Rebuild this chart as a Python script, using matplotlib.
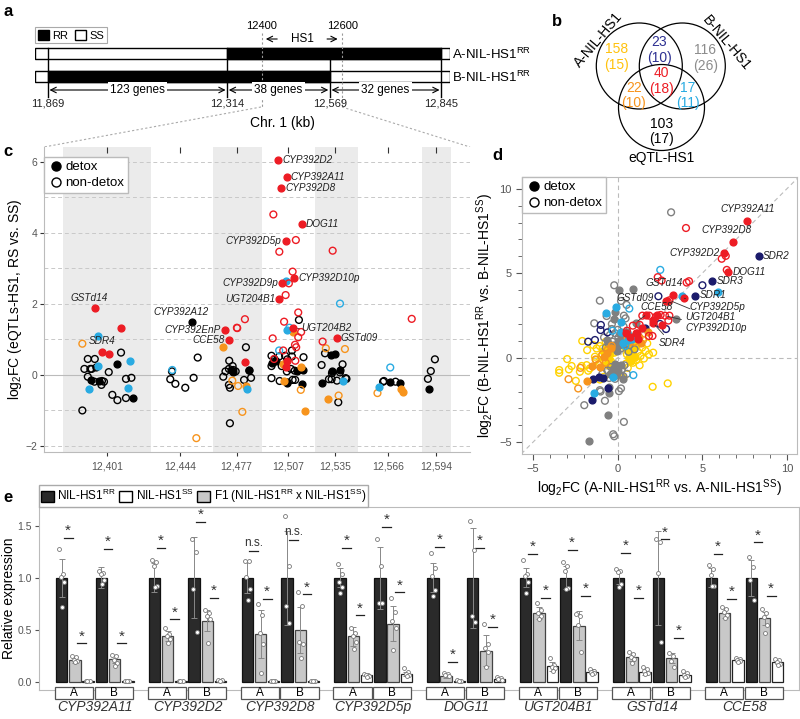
import matplotlib.pyplot as plt
import matplotlib.transforms as mtransforms
from matplotlib.patches import Rectangle, Circle, Patch
from matplotlib.lines import Line2D

plt.rcParams['font.family'] = ['Liberation Sans', 'DejaVu Sans']
plt.rcParams['mathtext.fontset'] = 'custom'
plt.rcParams['mathtext.rm'] = 'Liberation Sans'
plt.rcParams['mathtext.it'] = 'Liberation Sans:italic'

RED = '#ED1C24'
LBLUE = '#29ABE2'
ORANGE = '#F7941D'
YELLOW = '#FFD200'
NAVY = '#1B1B6B'
GRAY = '#808080'
TXT = '#555555'

# ---------------- data ----------------
# panel a: chromosome 1 segments (kb)
seg_bounds = [11869, 12314, 12569, 12845]
seg_genes = ['123 genes', '38 genes', '32 genes']
hs1_range = [12400, 12600]

# panel b: venn counts (all, detox)
venn_counts = [158, 23, 116, 22, 40, 17, 103]
venn_detox = [15, 10, 26, 10, 18, 11, 17]
venn_colors = ['#FFC20E', '#2E3192', '#8C8C8C', ORANGE, RED, LBLUE, 'black']
venn_sets = ['A-NIL-HS1', 'B-NIL-HS1', 'eQTL-HS1']

# panel c: (position kb, log2FC)
c_bands = [(12375, 12427), (12463, 12492), (12523, 12548), (12586, 12603)]
c_ticks = [12401, 12444, 12477, 12507, 12535, 12566, 12594]
c_red_detox = [(12393.8, 1.88), (12409.2, 1.32), (12397.9, 0.66), (12402.0, 0.59),
               (12470.4, 1.26), (12472.7, 0.99), (12481.9, 0.36), (12501.5, 6.04),
               (12506.4, 5.57), (12503.3, 5.26), (12515.2, 4.24), (12505.8, 3.78),
               (12510.7, 2.72), (12503.8, 2.58), (12502.1, 2.13), (12510.3, 1.31),
               (12535.7, 1.05), (12506.4, 0.40), (12506.0, 0.23)]
c_red_other = [(12498.6, 4.52), (12511.8, 3.80), (12502.1, 3.47), (12533.4, 3.50),
               (12509.9, 2.91), (12507.7, 2.58), (12505.8, 2.25), (12513.2, 1.76),
               (12481.9, 1.57), (12477.4, 1.32), (12579.8, 1.58), (12504.9, 1.50),
               (12514.9, 1.21), (12498.2, 1.03), (12513.2, 1.06), (12527.5, 0.94),
               (12511.3, 0.85), (12512.0, 0.78), (12477.2, 1.33), (12499.0, 0.45),
               (12504.4, 0.69), (12511.5, 0.40)]
c_blue_detox = [(12395.7, 1.09), (12414.3, 0.40), (12395.7, 0.25), (12390.6, -0.40),
                (12413.3, -0.38), (12505.8, 2.65), (12506.4, 1.27), (12483.3, -0.39),
                (12539.2, -0.16), (12560.5, -0.34)]
c_blue_other = [(12439.3, 0.14), (12537.7, 2.01), (12508.0, 1.33), (12502.0, 0.69),
                (12567.2, 0.21)]
c_orange_detox = [(12469.2, 0.79), (12510.3, 1.22), (12504.1, 0.30), (12514.8, 0.21),
                  (12530.8, -0.68), (12516.9, -1.02), (12573.4, -0.39), (12574.8, -0.48),
                  (12482.5, -0.31), (12505.0, -0.18)]
c_orange_other = [(12386.5, 0.88), (12453.4, -1.78), (12480.4, -1.04), (12514.7, -0.42),
                  (12529.4, 0.75), (12540.6, 0.73), (12536.9, -0.58), (12559.7, -0.51),
                  (12477.9, -0.31), (12474.5, -0.16)]
c_black_detox = [(12407.1, 0.30), (12391.8, -0.14), (12396.1, -0.16), (12416.2, -0.64),
                 (12451.0, 1.48), (12484.5, 0.15), (12498.0, 0.35), (12500.0, 0.38),
                 (12512.4, 0.12), (12515.9, 0.13), (12506.4, -0.22), (12515.3, -0.25),
                 (12532.4, 0.56), (12534.7, 0.58), (12532.9, 0.11), (12537.8, 0.14),
                 (12526.9, -0.23), (12567.2, -0.21), (12572.9, -0.23), (12590.0, -0.40),
                 (12473.5, 0.15), (12475.0, 0.08)]
c_black_other = [(12409.2, 0.63), (12389.7, 0.45), (12393.8, 0.45), (12394.7, 0.21),
                 (12387.7, 0.17), (12391.2, 0.17), (12392.0, 0.17), (12402.0, 0.08),
                 (12389.7, -0.05), (12393.6, -0.19), (12398.0, -0.17), (12399.2, -0.19),
                 (12397.7, -0.28), (12412.1, -0.11), (12415.3, -0.08), (12404.1, -0.56),
                 (12407.1, -0.71), (12412.1, -0.65), (12386.5, -1.00),
                 (12454.2, 0.49), (12439.1, 0.10), (12438.1, -0.12), (12441.1, -0.25),
                 (12451.8, -0.08), (12446.9, -0.36),
                 (12472.7, 0.40), (12470.5, 0.10), (12472.5, 0.17), (12474.7, 0.25),
                 (12475.1, 0.14), (12476.5, 0.10), (12469.2, -0.05), (12473.1, -0.36),
                 (12473.1, -1.36), (12482.5, 0.78), (12484.5, 0.12), (12481.4, -0.14),
                 (12485.5, -0.08), (12472.5, -0.28),
                 (12497.5, 0.54), (12499.3, 0.44), (12502.0, 0.52), (12505.5, 0.54),
                 (12506.8, 0.44), (12509.5, 0.69), (12509.5, 0.52), (12497.5, 0.25),
                 (12503.5, 0.25), (12506.5, 0.10), (12508.9, 0.17), (12511.1, 0.12),
                 (12497.5, -0.09), (12502.3, -0.17), (12507.0, -0.21), (12509.9, -0.14),
                 (12511.4, -0.14), (12516.3, 0.50), (12513.6, 1.55),
                 (12528.9, 0.61), (12526.9, 0.28), (12539.2, 0.30), (12533.0, 0.05),
                 (12537.7, 0.07), (12531.2, -0.12), (12532.8, -0.12), (12535.9, -0.16),
                 (12541.5, -0.11), (12541.0, -0.09), (12536.7, -0.77),
                 (12563.0, -0.19), (12563.5, -0.17), (12570.3, -0.19),
                 (12593.4, 0.44), (12591.0, 0.11), (12589.3, -0.11)]
c_label_names = ['GSTd14', 'SDR4', 'CYP392A12', 'CYP392EnP', 'CCE58', 'CYP392D2',
                 'CYP392A11', 'CYP392D8', 'DOG11', 'CYP392D10p', 'GSTd09',
                 'CYP392D5p', 'CYP392D9p', 'UGT204B1', 'UGT204B2']
c_label_pts = [(12393.8, 1.88), (12397.9, 0.66), (12451.0, 1.48), (12470.4, 1.26),
               (12472.7, 0.99), (12501.5, 6.04), (12506.4, 5.57), (12503.3, 5.26),
               (12515.2, 4.24), (12510.7, 2.72), (12535.7, 1.05), (12505.8, 3.78),
               (12503.8, 2.58), (12502.1, 2.13), (12510.3, 1.31)]

# panel d: (log2FC A, log2FC B)
d_yellow_detox = [(-0.85, 0.40), (-0.70, 0.10), (-0.60, 0.55), (-0.50, -0.15), (-0.45, 0.25),
                  (-0.65, -0.40), (0.55, 0.45), (0.65, 0.05), (0.70, 0.70), (0.80, -0.20),
                  (0.85, 0.30), (0.95, 0.55), (1.05, 0.05), (1.15, 0.80), (0.60, 0.90)]
d_yellow_other = [(-3.45, -0.73), (-3.45, -0.89), (-2.98, -0.08), (-2.88, -0.69), (-2.72, -0.49),
                  (-2.47, -1.37), (-2.23, -0.83), (-2.13, -0.49), (-2.09, 0.99), (-1.83, -0.44),
                  (-1.80, 0.45), (-1.74, -0.77), (-1.64, -0.63), (-1.44, 0.75), (-1.34, 0.06),
                  (-1.28, -0.14), (-1.24, 0.55), (-1.05, 0.69), (-1.05, -0.34), (-1.05, -1.29),
                  (-0.89, 0.55), (-0.85, -0.10), (-0.81, -1.13), (-0.75, 0.35), (-0.70, 0.95),
                  (-0.62, 0.15), (-0.55, -0.45), (-0.50, 0.62), (-0.45, 0.30), (-0.40, -0.20),
                  (0.34, -1.19), (0.45, 0.60), (0.50, -0.35), (0.55, 0.20), (0.62, 0.85),
                  (0.70, -0.10), (0.78, 0.45), (0.85, 1.00), (0.90, -0.30), (0.95, 0.15),
                  (1.05, 0.70), (1.10, -0.15), (1.20, 0.35), (1.28, 0.95), (1.35, 0.10),
                  (1.45, 0.60), (1.55, -0.05), (1.65, 0.40), (1.75, 0.85), (1.85, 0.20),
                  (2.07, -1.72), (2.96, -1.52), (1.30, -0.45), (0.60, -0.60), (-0.30, -0.85),
                  (-0.95, 0.10), (2.10, 0.30), (1.00, 1.25), (0.40, 1.10), (-0.20, 0.30)]
d_gray_detox = [(0.08, 4.02), (0.93, 4.08), (-0.18, 2.73), (-0.22, 2.29), (1.07, 2.08),
                (3.45, 2.27), (-0.49, -1.76), (-0.49, -2.06), (-0.59, -3.40), (-1.70, -4.95),
                (0.00, 1.00), (0.25, 1.15), (-0.25, 0.75), (0.40, 0.80), (-0.05, 0.40),
                (-0.30, -0.65), (0.05, -0.80), (0.20, -0.45), (-0.10, -1.05), (0.30, -1.25),
                (-0.45, -0.95), (0.55, 1.55), (-0.60, 1.05), (0.15, 1.40), (-0.15, -0.40),
                (0.10, 0.75)]
d_gray_other = [(3.16, 8.61), (-0.20, 4.29), (-1.05, 3.38), (0.20, 3.36), (0.53, 3.13),
                (-1.38, 2.04), (-0.65, 2.47), (-0.34, 2.00), (0.37, 2.49), (0.47, 2.33),
                (-0.80, 1.20), (-0.45, 1.35), (-0.30, 0.95), (-0.15, 1.45), (0.05, 1.20),
                (0.15, 0.85), (0.30, 1.30), (0.45, 1.05), (0.60, 1.35), (-0.10, 0.65),
                (0.20, 0.55), (-0.55, 0.85), (0.70, 0.75), (-0.40, -0.55), (-0.25, -0.85),
                (-0.05, -0.60), (0.10, -1.00), (0.25, -0.70), (0.40, -0.45), (-0.60, -0.75),
                (-0.15, -1.25), (0.34, -1.10), (0.08, -1.98), (-1.01, -2.00), (-1.05, -1.92),
                (-0.75, -2.55), (-1.97, -2.81), (0.20, -1.82), (0.37, -3.80), (-0.26, -4.53),
                (-0.20, -4.65), (-0.50, -1.20), (0.55, -0.95), (-0.90, -0.95), (1.00, 0.50),
                (-0.35, 1.70), (0.00, 1.65), (0.35, 1.85), (-0.70, 0.60), (0.65, 0.35)]
d_navy_detox = [(8.34, 6.03), (5.60, 4.55), (4.58, 3.66), (1.64, 1.74), (-1.44, -1.27),
                (-1.10, -1.13), (-0.85, -1.19), (-0.57, -1.82), (-1.54, -2.51), (0.95, 1.20)]
d_navy_other = [(5.01, 4.29), (2.41, 3.64), (2.86, 1.70), (-0.99, 1.94), (-1.01, 1.64),
                (-1.74, 0.95), (-1.34, 1.05), (-0.60, 1.50), (2.50, 2.00)]
d_orange_detox = [(1.81, 1.50), (-1.83, -1.38), (-1.54, -0.49), (-0.62, 0.30), (-0.80, 0.05),
                  (1.40, 0.90), (0.70, 0.95), (-0.40, 0.55), (1.25, 1.20), (-1.05, -0.55)]
d_orange_other = [(-2.90, -1.27), (-2.33, -1.82), (-1.30, -0.10), (-0.90, 0.20), (-0.60, 0.45),
                  (1.50, 1.05), (-1.15, -0.40), (0.60, 1.15), (-0.70, -0.30), (1.00, 0.95),
                  (-2.20, -0.60), (-0.35, 0.70)]
d_blue_detox = [(5.96, 3.90), (3.81, 3.66), (-0.12, 2.99), (-0.69, 2.63), (0.18, 2.14),
                (0.34, 0.89), (0.63, 1.05), (0.83, 1.09), (-1.38, -2.06), (-0.30, -1.13),
                (0.20, 1.50)]
d_blue_other = [(2.52, 5.20), (0.69, 2.91), (0.69, 1.29), (0.93, -1.03), (-0.30, 1.60),
                (0.45, 0.70)]
d_red_detox = [(7.63, 8.07), (6.84, 6.88), (6.29, 6.19), (6.55, 5.06), (3.27, 3.70),
               (3.94, 3.52), (2.86, 3.38), (1.68, 2.53), (2.07, 2.24), (2.11, 2.04),
               (2.62, 1.94), (1.22, 1.09), (1.16, 1.44), (0.49, 1.44), (1.08, 1.48),
               (0.75, 1.25), (1.45, 1.75), (2.35, 2.55)]
d_red_other = [(4.04, 7.68), (6.39, 6.03), (6.15, 5.86), (6.45, 5.20), (2.37, 4.77),
               (2.60, 4.57), (4.08, 4.45), (4.22, 4.53), (3.06, 3.40), (2.96, 3.33),
               (1.46, 2.49), (1.87, 2.49), (2.27, 2.43), (2.54, 2.53), (2.80, 2.49),
               (3.06, 2.49), (1.85, 1.29), (2.06, 1.29), (0.90, 1.90), (0.55, 1.60),
               (1.30, 1.95), (3.00, 2.20)]

# panel e: bars per gene -> [A RR, A F1, A SS, B RR, B F1, B SS]
e_genes = ['CYP392A11', 'CYP392D2', 'CYP392D8', 'CYP392D5p', 'DOG11', 'UGT204B1', 'GSTd14', 'CCE58']
e_mean = [[1.0, 0.21, 0.005, 1.0, 0.22, 0.005],
          [1.0, 0.44, 0.01, 1.0, 0.59, 0.012],
          [1.0, 0.46, 0.01, 1.0, 0.50, 0.01],
          [1.0, 0.44, 0.07, 1.0, 0.56, 0.08],
          [1.0, 0.06, 0.01, 1.0, 0.30, 0.03],
          [1.0, 0.66, 0.15, 1.0, 0.54, 0.10],
          [1.0, 0.24, 0.10, 1.0, 0.23, 0.07],
          [1.0, 0.66, 0.21, 1.0, 0.61, 0.19]]
e_sd = [[0.18, 0.03, 0.003, 0.10, 0.04, 0.003],
        [0.14, 0.05, 0.005, 0.39, 0.10, 0.006],
        [0.15, 0.23, 0.005, 0.45, 0.22, 0.005],
        [0.09, 0.09, 0.01, 0.30, 0.17, 0.02],
        [0.14, 0.02, 0.005, 0.48, 0.15, 0.01],
        [0.09, 0.06, 0.04, 0.11, 0.14, 0.02],
        [0.06, 0.04, 0.03, 0.45, 0.05, 0.02],
        [0.09, 0.05, 0.02, 0.17, 0.06, 0.02]]
e_pts = [[[1.28, 1.04, 1.01, 0.96, 0.72], [0.25, 0.24, 0.21, 0.20, 0.19], [0.005, 0.005, 0.005],
          [1.07, 1.05, 1.04, 0.98, 0.94], [0.26, 0.25, 0.21, 0.18, 0.15], [0.005, 0.005, 0.005]],
         [[1.17, 1.15, 1.11, 0.92, 0.91], [0.52, 0.46, 0.44, 0.41, 0.37], [0.01, 0.01, 0.01],
          [1.37, 1.25, 0.89, 0.48], [0.69, 0.66, 0.63, 0.60, 0.37], [0.02, 0.015, 0.01]],
         [[1.16, 1.16, 1.01, 0.89, 0.79], [0.75, 0.64, 0.47, 0.36, 0.09], [0.01, 0.01, 0.01],
          [1.59, 1.11, 0.73, 0.57], [0.86, 0.73, 0.38, 0.36, 0.23], [0.01, 0.01, 0.01]],
         [[1.13, 1.04, 0.96, 0.91, 0.85], [0.52, 0.47, 0.44, 0.38, 0.32], [0.08, 0.07, 0.065, 0.06, 0.05],
          [1.37, 1.11, 0.76, 0.76], [0.81, 0.67, 0.59, 0.52, 0.31], [0.13, 0.10, 0.08, 0.07, 0.06]],
         [[1.24, 1.09, 1.02, 0.88, 0.83], [0.09, 0.08, 0.07, 0.06], [0.015, 0.01, 0.01],
          [1.55, 1.27, 0.63, 0.58], [0.56, 0.36, 0.33, 0.29, 0.14], [0.05, 0.04, 0.03, 0.02]],
         [[1.17, 1.04, 1.02, 0.96, 0.85], [0.76, 0.69, 0.66, 0.63, 0.60], [0.23, 0.16, 0.14, 0.13, 0.11],
          [1.15, 1.11, 1.07, 0.90, 0.89], [0.65, 0.63, 0.55, 0.29], [0.12, 0.11, 0.10, 0.09, 0.08]],
         [[1.08, 1.07, 1.06, 0.94, 0.91], [0.29, 0.27, 0.24, 0.22, 0.18], [0.14, 0.12, 0.11, 0.09, 0.08],
          [1.37, 1.34, 1.05, 0.38], [0.28, 0.25, 0.20, 0.14], [0.11, 0.09, 0.07, 0.06, 0.05]],
         [[1.12, 1.08, 1.03, 0.92, 0.92], [0.72, 0.70, 0.67, 0.64, 0.61], [0.23, 0.22, 0.21, 0.20, 0.19],
          [1.20, 1.10, 0.98, 0.79], [0.70, 0.66, 0.62, 0.55, 0.47], [0.22, 0.21, 0.19, 0.17, 0.16]]]
# significance: A RR-F1, A F1-SS, B RR-F1, B F1-SS
e_sig_text = [['*', '*', '*', '*'], ['*', '*', '*', '*'], ['n.s.', '*', 'n.s.', '*'],
              ['*', '*', '*', '*'], ['*', '*', '*', '*'], ['*', '*', '*', '*'],
              ['*', '*', '*', '*'], ['*', '*', '*', '*']]
e_sig_y = [[1.38, 0.37, 1.28, 0.37], [1.29, 0.60, 1.54, 0.81], [1.26, 0.80, 1.36, 0.84],
           [1.29, 0.64, 1.49, 0.86], [1.30, 0.19, 1.29, 0.53], [1.23, 0.81, 1.27, 0.83],
           [1.24, 0.81, 1.37, 0.42], [1.23, 0.80, 1.34, 0.83]]

# ---------------- figure ----------------
W, H = 800, 719
fig = plt.figure(figsize=(8, 7.19), dpi=100)


def px_axes(l, t, r, b):
    return fig.add_axes([l / W, 1 - b / H, (r - l) / W, (b - t) / H])


def dots(ax, pts, color, filled, s=24):
    xs = [p[0] for p in pts]
    ys = [p[1] for p in pts]
    ax.scatter(xs, ys, s=s, facecolors=color if filled else 'none',
               edgecolors=color, linewidths=1.0, zorder=3)


# overlay for letters and zoom lines
ov = fig.add_axes([0, 0, 1, 1])
ov.set_xlim(0, W)
ov.set_ylim(H, 0)
ov.axis('off')
for x0, x1 in [(261, 44), (342, 470)]:
    ov.plot([x0, x1], [107, 147], color='#AAAAAA', lw=0.8, ls=(0, (2, 2)))
for letter, x, y in [('a', 3, 11), ('b', 552, 22), ('c', 3, 152), ('d', 492, 155), ('e', 3, 497)]:
    ov.text(x, y, letter, fontsize=12, fontweight='bold', va='center', ha='left')

# ---- panel a ----
ax_a = px_axes(35, 15, 450, 135)
ax_a.set_xlim(11837, 12867)
ax_a.set_ylim(135, 15)
ax_a.axis('off')
ax_a.add_patch(Rectangle((11837, 48), 1030, 11, fc='white', ec='black', lw=1))
ax_a.add_patch(Rectangle((seg_bounds[1], 48), seg_bounds[3] - seg_bounds[1], 11, fc='black', ec='black', lw=1))
ax_a.add_patch(Rectangle((11837, 71), 1030, 11, fc='white', ec='black', lw=1))
ax_a.add_patch(Rectangle((seg_bounds[0], 71), seg_bounds[2] - seg_bounds[0], 11, fc='black', ec='black', lw=1))
for xb, ytop in zip(seg_bounds, [48, 48, 59, 48]):
    ax_a.plot([xb, xb], [ytop, 97], color='black', lw=1)
    ax_a.text(xb, 103, f'{xb:,}', fontsize=8, ha='center', va='center', color='#222222')
for i, lab in enumerate(seg_genes):
    a, b = seg_bounds[i], seg_bounds[i + 1]
    ax_a.annotate('', xy=(a + 4, 90), xytext=(b - 4, 90),
                  arrowprops=dict(arrowstyle='<->', lw=0.8, color='black', shrinkA=0, shrinkB=0))
    ax_a.text((a + b) / 2, 90, lab, fontsize=8.5, ha='center', va='center',
              bbox=dict(fc='white', ec='none', pad=1.5))
ax_a.text(12452, 123, 'Chr. 1 (kb)', fontsize=10, ha='center', va='center')
for xh in hs1_range:
    ax_a.plot([xh, xh], [33, 107], color='#999999', lw=0.8, ls=(0, (2, 2)))
    ax_a.text(xh, 26, str(xh), fontsize=8, ha='center', va='center')
ax_a.text(12500, 39, 'HS1', fontsize=8.5, ha='center', va='center')
ax_a.annotate('', xy=(hs1_range[0] + 3, 39), xytext=(12445, 39),
              arrowprops=dict(arrowstyle='->', lw=0.8, color='black'))
ax_a.annotate('', xy=(hs1_range[1] - 5, 39), xytext=(12555, 39),
              arrowprops=dict(arrowstyle='->', lw=0.8, color='black'))
ax_a.text(12872, 54, 'A-NIL-HS1$^{\\mathrm{RR}}$', fontsize=9.5, ha='left', va='center', clip_on=False)
ax_a.text(12872, 77, 'B-NIL-HS1$^{\\mathrm{RR}}$', fontsize=9.5, ha='left', va='center', clip_on=False)
leg_a = ax_a.legend(handles=[Patch(fc='black', ec='black'), Patch(fc='white', ec='black')],
                    labels=['RR', 'SS'], ncol=2, loc='upper left', bbox_to_anchor=(0, 0.9),
                    borderaxespad=0, fontsize=8, handlelength=1.0, handleheight=1.0,
                    handletextpad=0.3, columnspacing=0.6, borderpad=0.25,
                    fancybox=False, edgecolor='#AAAAAA', framealpha=1)
leg_a.get_frame().set_linewidth(0.8)

# ---- panel b ----
ax_b = px_axes(540, 0, 800, 170)
ax_b.set_xlim(540, 800)
ax_b.set_ylim(170, 0)
ax_b.axis('off')
for cx, cy in [(639.3, 66), (682.3, 66), (661.5, 107.5)]:
    ax_b.add_patch(Circle((cx, cy), 43, fill=False, ec='black', lw=0.9))
venn_pos = [(616.7, 49), (659.3, 42), (705.3, 50), (634, 87.5), (661.7, 73), (688, 87.5), (661.7, 123.5)]
for (vx, vy), n, nd, col in zip(venn_pos, venn_counts, venn_detox, venn_colors):
    ax_b.text(vx, vy, str(n), color=col, fontsize=10, ha='center', va='center')
    ax_b.text(vx, vy + 16, f'({nd})', color=col, fontsize=10, ha='center', va='center')
ax_b.text(598, 40, venn_sets[0], fontsize=10, rotation=50, ha='center', va='center')
ax_b.text(726, 43, venn_sets[1], fontsize=10, rotation=-50, ha='center', va='center')
ax_b.text(661.7, 158, venn_sets[2], fontsize=10, ha='center', va='center')

# ---- panel c ----
ax_c = px_axes(44, 147, 470, 452)
ax_c.set_xlim(12364, 12614)
ax_c.set_ylim(-2.17, 6.42)
for lo, hi in c_bands:
    ax_c.axvspan(lo, hi, color='#EBEBEB', lw=0, zorder=0)
for yv in [-2, -1, 1, 2, 3, 4, 5, 6]:
    ax_c.axhline(yv, color='#C8C8C8', lw=0.7, ls=(0, (4, 3)), zorder=0.5)
ax_c.axhline(0, color='#BBBBBB', lw=0.8, zorder=0.5)
dots(ax_c, c_black_other, 'black', False)
dots(ax_c, c_black_detox, 'black', True)
dots(ax_c, c_orange_other, ORANGE, False)
dots(ax_c, c_orange_detox, ORANGE, True)
dots(ax_c, c_blue_other, LBLUE, False)
dots(ax_c, c_blue_detox, LBLUE, True)
dots(ax_c, c_red_other, RED, False)
dots(ax_c, c_red_detox, RED, True)
c_offsets = [(-4, 4, 'center', 'bottom'), (0, 4, 'center', 'bottom'), (-8, 4, 'center', 'bottom'),
             (-3, 0, 'right', 'center'), (-3, 0, 'right', 'center'), (3, 0, 'left', 'center'),
             (3, 0, 'left', 'center'), (3, 0, 'left', 'center'), (3, 0, 'left', 'center'),
             (3, 0, 'left', 'center'), (3, 0, 'left', 'center'), (-3, 0, 'right', 'center'),
             (-3, 0, 'right', 'center'), (-3, 0, 'right', 'center'), (6, 0, 'left', 'center')]
for name, pt, (dx, dy, ha, va) in zip(c_label_names, c_label_pts, c_offsets):
    ax_c.annotate(name, xy=pt, xytext=(dx, dy), textcoords='offset points', ha=ha, va=va,
                  fontsize=7.2, style='italic', color='#222222')
ax_c.plot([12511.5, 12514.0], [1.31, 1.31], color='#333333', lw=0.6)
for sp in ['top', 'right']:
    ax_c.spines[sp].set_visible(False)
for sp in ['left', 'bottom']:
    ax_c.spines[sp].set_color('#BBBBBB')
ax_c.set_xticks(c_ticks)
ax_c.set_xticklabels([f'{t:,}' for t in c_ticks])
ax_c.set_yticks([-2, 0, 2, 4, 6])
ax_c.tick_params(labelsize=7.5, labelcolor=TXT, color='#333333', length=3)
ax_c.tick_params(axis='y', pad=2)
sec = ax_c.secondary_xaxis('top')
sec.set_xticks(c_ticks)
sec.set_xticklabels([])
sec.tick_params(direction='in', length=4, color='#333333')
sec.spines['top'].set_visible(False)
ax_c.set_ylabel('log$_2$FC (eQTLs-HS1, RS vs. SS)', fontsize=10, labelpad=1)
det_handles = [Line2D([], [], marker='o', ls='none', color='black', markersize=6.5),
               Line2D([], [], marker='o', ls='none', mfc='none', mec='black', markersize=6.5, mew=1)]
leg_c = ax_c.legend(det_handles, ['detox', 'non-detox'], loc='upper left', bbox_to_anchor=(0, 0.967),
                    borderaxespad=0, fontsize=9.5, handletextpad=0.1, handlelength=1.2,
                    borderpad=0.3, labelspacing=0.3, fancybox=False, edgecolor='#BBBBBB', framealpha=1)

# ---- panel d ----
ax_d = px_axes(522, 177, 797, 454)
ax_d.set_xlim(-5.65, 10.6)
ax_d.set_ylim(-5.7, 10.7)
ax_d.axvline(0, color='#BBBBBB', lw=0.8, ls=(0, (4, 3)), zorder=0.5)
ax_d.axhline(0, color='#BBBBBB', lw=0.8, ls=(0, (4, 3)), zorder=0.5)
ax_d.plot([-5.7, 10.7], [-5.7, 10.7], color='#BBBBBB', lw=0.8, ls=(0, (4, 3)), zorder=0.5)
dots(ax_d, d_yellow_other, YELLOW, False)
dots(ax_d, d_yellow_detox, YELLOW, True)
dots(ax_d, d_gray_other, GRAY, False)
dots(ax_d, d_gray_detox, GRAY, True)
dots(ax_d, d_navy_other, NAVY, False)
dots(ax_d, d_navy_detox, NAVY, True)
dots(ax_d, d_orange_other, ORANGE, False)
dots(ax_d, d_orange_detox, ORANGE, True)
dots(ax_d, d_blue_other, LBLUE, False)
dots(ax_d, d_blue_detox, LBLUE, True)
dots(ax_d, d_red_other, RED, False)
dots(ax_d, d_red_detox, RED, True)
lab_kw = dict(textcoords='offset points', fontsize=7.2, style='italic', color='#222222')
ax_d.annotate('CYP392A11', xy=(7.63, 8.07), xytext=(1, 5), ha='center', va='bottom', **lab_kw)
ax_d.annotate('CYP392D8', xy=(6.84, 6.88), xytext=(-5, 5), ha='center', va='bottom', **lab_kw)
ax_d.annotate('CYP392D2', xy=(6.29, 6.19), xytext=(-3, 0), ha='right', va='center', **lab_kw)
ax_d.annotate('SDR2', xy=(8.34, 6.03), xytext=(3, 0), ha='left', va='center', **lab_kw)
ax_d.annotate('DOG11', xy=(6.55, 5.06), xytext=(3, 0), ha='left', va='center', **lab_kw)
ax_d.annotate('SDR3', xy=(5.60, 4.55), xytext=(3, 0), ha='left', va='center', **lab_kw)
ax_d.annotate('SDR1', xy=(4.58, 3.66), xytext=(3, 1), ha='left', va='center', **lab_kw)
ax_d.annotate('GSTd14', xy=(3.27, 3.70), xytext=(-6, 5), ha='center', va='bottom', **lab_kw)
ax_d.annotate('GSTd09', xy=(2.41, 3.64), xytext=(-3, -1), ha='right', va='center', **lab_kw)
lead = dict(arrowstyle='-', color='#333333', lw=0.6, shrinkA=1, shrinkB=2)
lead_kw = dict(textcoords='data', fontsize=7.2, style='italic', color='#222222', arrowprops=lead)
ax_d.annotate('CCE58', xy=(1.07, 2.08), xytext=(1.32, 3.0), ha='left', va='center', **lead_kw)
ax_d.annotate('CYP392D5p', xy=(3.94, 3.52), xytext=(4.26, 3.02), ha='left', va='center', **lead_kw)
ax_d.annotate('UGT204B1', xy=(3.06, 3.40), xytext=(3.99, 2.40), ha='left', va='center', **lead_kw)
ax_d.annotate('CYP392D10p', xy=(2.80, 2.49), xytext=(3.98, 1.78), ha='left', va='center', **lead_kw)
ax_d.annotate('SDR4', xy=(2.11, 2.04), xytext=(3.19, 0.85), ha='center', va='center', **lead_kw)
for sp in ax_d.spines.values():
    sp.set_color('#BBBBBB')
ax_d.set_xticks([-5, 0, 5, 10])
ax_d.set_yticks([-5, 0, 5, 10])
ax_d.set_xticks(range(-5, 11), minor=True)
ax_d.set_yticks(range(-5, 11), minor=True)
ax_d.tick_params(which='major', labelsize=8, labelcolor=TXT, color='#555555', length=4)
ax_d.tick_params(which='minor', color='#555555', length=3)
ax_d.set_xlabel('log$_2$FC (A-NIL-HS1$^{\\mathrm{RR}}$ vs. A-NIL-HS1$^{\\mathrm{SS}}$)', fontsize=10, labelpad=2)
ax_d.set_ylabel('log$_2$FC (B-NIL-HS1$^{\\mathrm{RR}}$ vs. B-NIL-HS1$^{\\mathrm{SS}}$)', fontsize=10, labelpad=2)
ax_d.legend(det_handles, ['detox', 'non-detox'], loc='upper left', borderaxespad=0,
            fontsize=9.5, handletextpad=0.1, handlelength=1.2, borderpad=0.3, labelspacing=0.3,
            fancybox=False, edgecolor='#BBBBBB', framealpha=1)

# ---- panel e ----
ax_e = px_axes(39, 507, 799, 690)
ax_e.set_xlim(-1.7, 55.6)
ax_e.set_ylim(-0.077, 1.68)
bar_fc = ['#2A2A2A', '#C8C8C8', 'white', '#2A2A2A', '#C8C8C8', 'white']
bar_ec = ['#111111', '#444444', '#222222', '#111111', '#444444', '#222222']
jit = [-0.18, 0.12, -0.06, 0.18, 0.02]
trans = mtransforms.blended_transform_factory(ax_e.transData, ax_e.transAxes)
for g, gene in enumerate(e_genes):
    base = 7 * g
    for k in range(6):
        x = base + k
        ax_e.bar(x, e_mean[g][k], width=0.86, color=bar_fc[k], edgecolor=bar_ec[k], lw=0.9, zorder=2)
        ax_e.errorbar(x, e_mean[g][k], yerr=e_sd[g][k], color='#888888', capsize=2.5,
                      lw=0.7, capthick=0.7, zorder=4)
        pts = e_pts[g][k]
        ax_e.scatter([x + jit[i % 5] for i in range(len(pts))], pts, s=8, fc='white',
                     ec='#777777', lw=0.6, zorder=5)
    for j in range(4):
        s, pair = divmod(j, 2)
        xm = base + 3 * s + pair + 0.5
        yv = e_sig_y[g][j]
        ax_e.plot([xm - 0.33, xm + 0.33], [yv, yv], color='#222222', lw=0.9, zorder=4)
        txt = e_sig_text[g][j]
        ax_e.text(xm, yv + (0.0 if txt == '*' else 0.02), txt, ha='center', va='bottom',
                  fontsize=11 if txt == '*' else 8.5, color='#333333', zorder=4)
    for s, lab in enumerate(['A', 'B']):
        ax_e.add_patch(Rectangle((base + 3 * s - 0.5, -0.05), 2.88, 0.066, transform=trans,
                                 clip_on=False, fc='white', ec='#555555', lw=0.9, zorder=6))
        ax_e.text(base + 3 * s + 0.94, -0.017, lab, transform=trans, ha='center', va='center',
                  fontsize=8.5, zorder=7)
    ax_e.text(base + 2.5, -0.095, gene, transform=trans, ha='center', va='center',
              fontsize=10, style='italic', color='#333333')
for sp in ax_e.spines.values():
    sp.set_color('#BBBBBB')
ax_e.set_xticks([])
ax_e.set_yticks([0, 0.5, 1.0, 1.5])
ax_e.set_yticklabels(['0.0', '0.5', '1.0', '1.5'])
ax_e.tick_params(axis='y', labelsize=7.5, labelcolor=TXT, color='#555555', length=3, pad=2)
ax_e.set_ylabel('Relative expression', fontsize=10, labelpad=1)
leg_e = ax_e.legend(handles=[Patch(fc='#2A2A2A', ec='black'), Patch(fc='white', ec='black'),
                             Patch(fc='#C8C8C8', ec='black')],
                    labels=['NIL-HS1$^{\\mathrm{RR}}$', 'NIL-HS1$^{\\mathrm{SS}}$',
                            'F1 (NIL-HS1$^{\\mathrm{RR}}$ x NIL-HS1$^{\\mathrm{SS}}$)'],
                    ncol=3, loc='lower left', bbox_to_anchor=(0, 1), borderaxespad=0,
                    fontsize=8.5, handlelength=1.1, handleheight=1.1, handletextpad=0.3,
                    columnspacing=0.3, borderpad=0.15, fancybox=False, edgecolor='#AAAAAA',
                    framealpha=1)

fig.savefig('out.png', dpi=100)
